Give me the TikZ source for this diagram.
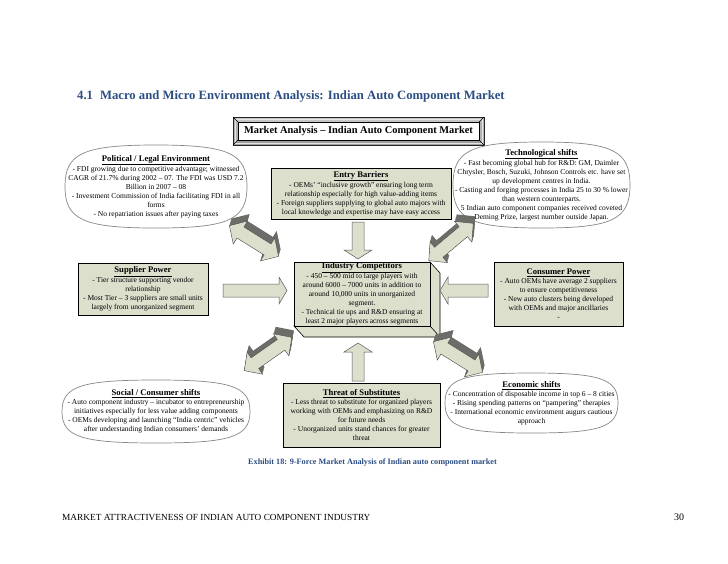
\documentclass[tikz,border=0pt]{standalone}
\usepackage{fontspec}
\setmainfont{Liberation Serif}
\definecolor{boxfill}{RGB}{221,223,205}
\definecolor{titleblue}{RGB}{44,78,130}
\definecolor{arrowdark}{RGB}{108,108,104}
\definecolor{ovalgray}{RGB}{135,135,135}
\newcommand\bodyfont{\fontsize{7.5}{9}\selectfont}
\newcommand\hd[1]{{\fontsize{8.6}{9}\selectfont\bfseries\underline{#1}}}
\newcommand\ovalshape[4]{\draw[ovalline] ({#1-#3},{#2}) .. controls ({#1-#3},{#2-0.8*#4}) and ({#1-0.8*#3},{#2-#4}) .. ({#1},{#2-#4}) .. controls ({#1+0.8*#3},{#2-#4}) and ({#1+#3},{#2-0.8*#4}) .. ({#1+#3},{#2}) .. controls ({#1+#3},{#2+0.8*#4}) and ({#1+0.8*#3},{#2+#4}) .. ({#1},{#2+#4}) .. controls ({#1-0.8*#3},{#2+#4}) and ({#1-#3},{#2+0.8*#4}) .. cycle;}
\newcommand\threedarrow[3]{%
 \begin{scope}[shift={(#1,#2)}]
  \foreach \s in {1,...,14}{%
   \fill[arrowdark,shift={(0.14*\s,-0.5*\s)},rotate=#3] (-29,0) -- (-16,13.5) -- (-16,6.5) -- (16,6.5) -- (16,13.5) -- (29,0) -- (16,-13.5) -- (16,-6.5) -- (-16,-6.5) -- (-16,-13.5) -- cycle;}
  \filldraw[arrowface,rotate=#3] (-29,0) -- (-16,13.5) -- (-16,6.5) -- (16,6.5) -- (16,13.5) -- (29,0) -- (16,-13.5) -- (16,-6.5) -- (-16,-6.5) -- (-16,-13.5) -- cycle;
 \end{scope}}
\begin{document}
\begin{tikzpicture}[x=1pt,y=-1pt,
  box/.style={draw=black,line width=0.9pt,fill=boxfill,align=center,inner sep=0pt,font=\bodyfont},
  ovaltext/.style={align=center,inner sep=0pt,font=\bodyfont},
  ovalline/.style={draw=ovalgray,line width=0.7pt},
  blockarrow/.style={fill=boxfill,draw=gray!70!black,line width=0.5pt},
  arrowface/.style={fill=boxfill,draw=gray!55!black,line width=0.4pt}]
\useasboundingbox (0,0) rectangle (728,563);
\fill[white] (0,0) rectangle (728,563);

% title
\node[anchor=west,text=titleblue,font=\fontsize{12.7}{14}\selectfont\bfseries,inner sep=0pt] (title) at (77,96) {4.1\hspace{0.55em}Macro and Micro Environment Analysis: Indian Auto Component Market};

% bevel box
\fill[gray!60] (233,117) rectangle (484,145);
\fill[gray!45] (233,117) -- (484,117) -- (479,122) -- (238,122) -- cycle;
\fill[gray!75] (233,145) -- (484,145) -- (479,140) -- (238,140) -- cycle;
\draw[line width=0.9pt,draw=black!85] (233,117) rectangle (484,145);
\draw[line width=0.4pt,draw=white!80!gray] (235,119) rectangle (482,143);
\draw[line width=0.5pt] (233,117) -- (238,122) (484,117) -- (479,122) (233,145) -- (238,140) (484,145) -- (479,140);
\node[draw=black,line width=0.6pt,fill=white,minimum width=241pt,minimum height=18pt,inner sep=0pt,font=\fontsize{10.4}{12}\selectfont\bfseries] (market) at (358.5,131) {Market Analysis – Indian Auto Component Market};

% ovals
\ovalshape{156}{186.5}{91}{41.5}
\node[ovaltext] (political) at (156,186.5) {\hd{Political / Legal Environment}\\
- FDI growing due to competitive advantage; witnessed\\
CAGR of 21.7\% during 2002 – 07. The FDI was USD 7.2\\
Billion in 2007 – 08\\
- Investment Commission of India facilitating FDI in all\\
forms\\
- No repatriation issues after paying taxes};

\ovalshape{541.5}{185}{88.5}{43}
\node[ovaltext] (tech) at (541.5,185) {\hd{Technological shifts}\\
- Fast becoming global hub for R\&D: GM, Daimler\\
Chrysler, Bosch, Suzuki, Johnson Controls etc. have set\\
up development centres in India.\\
- Casting and forging processes in India 25 to 30 \% lower\\
than western counterparts.\\
5 Indian auto component companies received coveted\\
Deming Prize, largest number outside Japan.};

\ovalshape{156}{411.5}{94}{31.5}
\node[ovaltext] (social) at (156,411.5) {\hd{Social / Consumer shifts}\\
- Auto component industry – incubator to entrepreneurship\\
initiatives especially for less value adding components\\
- OEMs developing and launching “India centric” vehicles\\
after understanding Indian consumers’ demands};

\ovalshape{531.5}{403}{86.5}{30}
\node[ovaltext] (economic) at (531.5,403) {\hd{Economic shifts}\\
- Concentration of disposable income in top 6 – 8 cities\\
- Rising spending patterns on “pampering” therapies\\
- International economic environment augurs cautious\\
approach};

% boxes
\node[box,minimum width=180pt,minimum height=51pt] (entry) at (361,193.5) {\hd{Entry Barriers}\\
- OEMs’ “inclusive growth” ensuring long term\\
relationship especially for high value-adding items\\
- Foreign suppliers supplying to global auto majors with\\
local knowledge and expertise may have easy access};

\node[box,minimum width=130pt,minimum height=52pt] (supplier) at (143,289) {\hd{Supplier Power}\\
- Tier structure supporting vendor\\
relationship\\
- Most Tier – 3 suppliers are small units\\
largely from unorganized segment};

\filldraw[fill=boxfill,draw=black,line width=0.6pt] (430,262) -- (440,273) -- (440,337) -- (304,337) -- (294,326) -- (430,326) -- cycle;
\draw[line width=0.6pt] (430,326) -- (440,337);
\node[box,minimum width=136pt,minimum height=64pt] (industry) at (362,294) {\hd{Industry Competitors}\\
- 450 – 500 mid to large players with\\
around 6000 – 7000 units in addition to\\
around 10,000 units in unorganized\\
segment.\\
- Technical tie ups and R\&D ensuring at\\
least 2 major players across segments};

\node[box,minimum width=129pt,minimum height=64pt] (consumer) at (558.5,294) {\hd{Consumer Power}\\
- Auto OEMs have average 2 suppliers\\
to ensure competitiveness\\
- New auto clusters being developed\\
with OEMs and major ancillaries\\
-};

\node[box,minimum width=157pt,minimum height=64pt] (threat) at (361.5,415) {\hd{Threat of Substitutes}\\
- Less threat to substitute for organized players\\
working with OEMs and emphasizing on R\&D\\
for future needs\\
- Unorganized units stand chances for greater\\
threat};

% block arrows
\filldraw[blockarrow] (352,222) -- (364,222) -- (364,250) -- (372,250) -- (358,259) -- (344,250) -- (352,250) -- cycle;
\filldraw[blockarrow] (352,381) -- (364,381) -- (364,352) -- (372,352) -- (358,343) -- (344,352) -- (352,352) -- cycle;
\filldraw[blockarrow] (223,284) -- (279,284) -- (279,277) -- (287,290.5) -- (279,304) -- (279,297) -- (223,297) -- cycle;
\filldraw[blockarrow] (488,284) -- (448,284) -- (448,277) -- (440,290.5) -- (448,304) -- (448,297) -- (488,297) -- cycle;

% 3D double arrows
\threedarrow{254}{241}{-32}
\threedarrow{451}{242}{40}
\threedarrow{268}{354}{35}
\threedarrow{458}{357}{-32}

% caption and footer
\node[text=titleblue,font=\fontsize{8.2}{10}\selectfont\bfseries,inner sep=0pt] (caption) at (372.5,462) {Exhibit 18: 9-Force Market Analysis of Indian auto component market};
\node[anchor=west,font=\fontsize{9.3}{11}\selectfont,inner sep=0pt] (footer) at (62,517) {MARKET ATTRACTIVENESS OF INDIAN AUTO COMPONENT INDUSTRY};
\node[font=\fontsize{10}{12}\selectfont,inner sep=0pt] (page) at (679,517) {30};
\end{tikzpicture}
\end{document}
